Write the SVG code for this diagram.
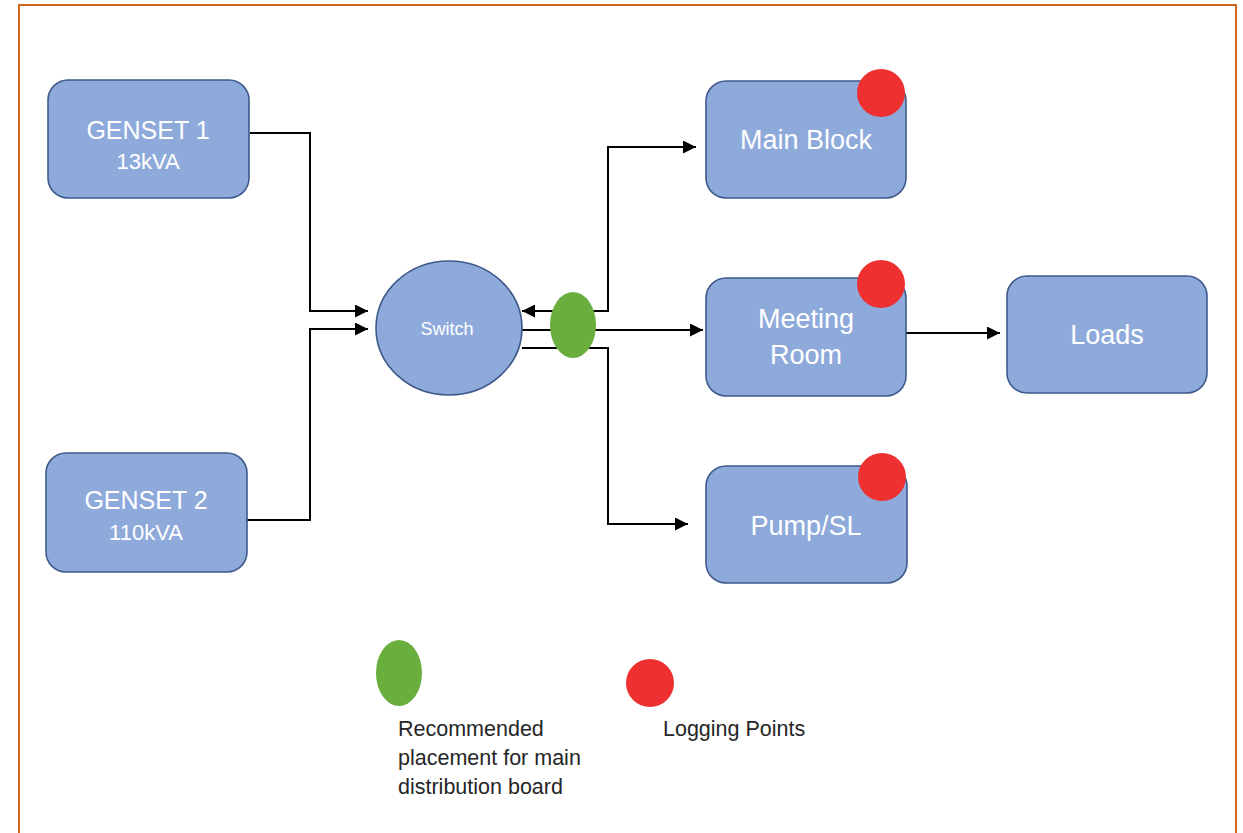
<svg xmlns="http://www.w3.org/2000/svg" width="1243" height="833" viewBox="0 0 1243 833">
<style>
.box{fill:#8eaadb;stroke:#3e5a8a;stroke-width:1.6}
.lbl{font-family:"Liberation Sans",Arial,sans-serif;fill:#ffffff;text-anchor:middle}
.big{font-size:25px}
.med{font-size:22px}
.leg{font-family:"Liberation Sans",Arial,sans-serif;font-size:21.5px;fill:#262626}
.con{fill:none;stroke:#000;stroke-width:2}
.red{fill:#ee3030}
.green{fill:#6aae3e}
</style>
<defs>
<marker id="arr" viewBox="0 0 10 10" refX="10" refY="5" markerUnits="userSpaceOnUse" markerWidth="15" markerHeight="13" orient="auto-start-reverse">
<path d="M0,0 L10,5 L0,10 z" fill="#000"/>
</marker>
</defs>
<rect x="0" y="0" width="1243" height="833" fill="#ffffff"/>
<rect x="19" y="5" width="1217" height="840" fill="none" stroke="#d0651e" stroke-width="2"/>

<g id="connectors">
<path class="con" d="M250,133 H310 V311 H368" marker-end="url(#arr)"/>
<path class="con" d="M247,520 H310 V329 H368" marker-end="url(#arr)"/>
<path class="con" d="M522,311 H608 V147 H696" marker-start="url(#arr)" marker-end="url(#arr)"/>
<path class="con" d="M522,330 H703" marker-end="url(#arr)"/>
<path class="con" d="M522,348 H608 V524 H688" marker-end="url(#arr)"/>
<path class="con" d="M906,333 H1000" marker-end="url(#arr)"/>
</g>

<g id="genset1">
<rect class="box" x="48" y="80" width="201" height="118" rx="20"/>
<text class="lbl big" x="148" y="139">GENSET 1</text>
<text class="lbl med" x="148" y="169">13kVA</text>
</g>

<g id="genset2">
<rect class="box" x="46" y="453" width="201" height="119" rx="20"/>
<text class="lbl big" x="146" y="509">GENSET 2</text>
<text class="lbl med" x="146" y="540">110kVA</text>
</g>

<g id="switch">
<ellipse class="box" cx="449" cy="328" rx="73" ry="67"/>
<text class="lbl" x="447" y="335" font-size="18">Switch</text>
</g>

<g id="mdb">
<ellipse class="green" cx="573" cy="325" rx="23" ry="33"/>
</g>

<g id="mainblock">
<rect class="box" x="706" y="81" width="200" height="117" rx="20"/>
<text class="lbl" x="806" y="149" font-size="27">Main Block</text>
<circle class="red" cx="881" cy="93" r="24"/>
</g>

<g id="meetingroom">
<rect class="box" x="706" y="278" width="200" height="118" rx="20"/>
<text class="lbl" x="806" y="328" font-size="27">Meeting</text>
<text class="lbl" x="806" y="364" font-size="27">Room</text>
<circle class="red" cx="881" cy="284" r="24"/>
</g>

<g id="loads">
<rect class="box" x="1007" y="276" width="200" height="117" rx="20"/>
<text class="lbl" x="1107" y="344" font-size="27">Loads</text>
</g>

<g id="pump">
<rect class="box" x="706" y="466" width="201" height="117" rx="20"/>
<text class="lbl" x="806" y="535" font-size="27">Pump/SL</text>
<circle class="red" cx="882" cy="477" r="24"/>
</g>

<g id="legend">
<ellipse class="green" cx="399" cy="673" rx="23" ry="33"/>
<text class="leg" x="398" y="736">Recommended</text>
<text class="leg" x="398" y="765">placement for main</text>
<text class="leg" x="398" y="794">distribution board</text>
<circle class="red" cx="650" cy="683" r="24"/>
<text class="leg" x="663" y="736">Logging Points</text>
</g>
</svg>
